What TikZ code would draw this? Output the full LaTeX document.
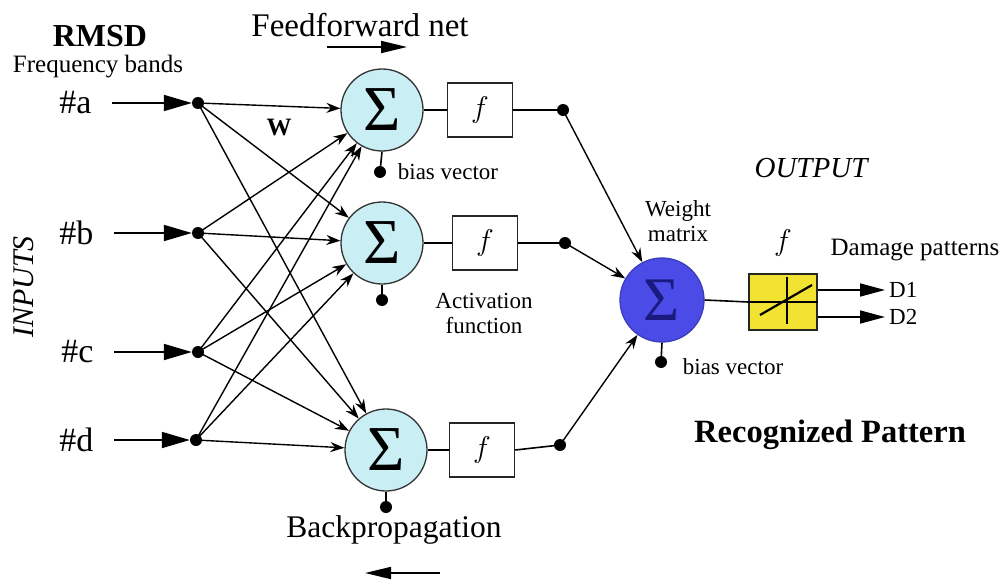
\RequirePackage{fix-cm}
\documentclass[tikz,border=0pt]{standalone}
\usepackage{fontspec}
\setmainfont{Liberation Serif}
\usetikzlibrary{arrows.meta,calc}
\definecolor{neuron}{HTML}{C9EEF3}
\definecolor{outblue}{HTML}{4B4BE8}
\definecolor{sigblue}{HTML}{1A1A80}
\definecolor{ybox}{HTML}{F2E232}
\begin{document}
\begin{tikzpicture}[x=1pt,y=-1pt,
 neuronc/.style={circle,draw=black!80,line width=1.3pt,fill=neuron,minimum size=82pt,inner sep=0pt,font=\fontsize{64}{64}\selectfont},
 fbox/.style={draw=black!85,line width=1.5pt,fill=white,minimum width=65pt,minimum height=54pt,inner sep=0pt,font=\fontsize{30}{30}\selectfont},
 dotn/.style={circle,fill=black,minimum size=12pt,inner sep=0pt},
 conn/.style={line width=1.4pt,-{Stealth[length=14pt,width=10pt]}},
 inarr/.style={line width=1.8pt,-{Triangle[length=28pt,width=16pt]}},
 plainln/.style={line width=1.6pt},
 lbl/.style={font=\fontsize{33}{36}\selectfont},
 smalllbl/.style={font=\fontsize{23}{25}\selectfont},
]
\useasboundingbox (0,0) rectangle (1000,583);
% input labels
\node[font=\fontsize{32}{34}\selectfont\bfseries,inner sep=1pt] (rmsd) at (100,36) {RMSD};
\node[font=\fontsize{25}{27}\selectfont,inner sep=1pt] (fb) at (98,67) {Frequency bands};
\node[font=\fontsize{34}{36}\selectfont,anchor=east] (la) at (95,103) {\#a};
\node[font=\fontsize{34}{36}\selectfont,anchor=east] (lb) at (97,233) {\#b};
\node[font=\fontsize{34}{36}\selectfont,anchor=east] (lc) at (97,352) {\#c};
\node[font=\fontsize{34}{36}\selectfont,anchor=east] (ld) at (97,440) {\#d};
\node[font=\fontsize{30}{32}\selectfont\itshape,rotate=90] (inputs) at (24,287) {INPUTS};
% input dots
\node[dotn] (ia) at (198,103) {};
\node[dotn] (ib) at (198,233) {};
\node[dotn] (ic) at (198,352) {};
\node[dotn] (id) at (196,440) {};
\foreach \l/\i in {la/ia,lb/ib,lc/ic,ld/id}{
  \draw[inarr] ($(\l.east)+(17,0)$) -- (\i.west);
}
% hidden neurons
\node[neuronc] (n1) at (382,110) {Σ};
\node[neuronc] (n2) at (382,243) {Σ};
\node[neuronc] (n3) at (386,450) {Σ};
% connections
\foreach \i in {ia,ib,ic,id}{
  \foreach \n in {n1,n2,n3}{
    \draw[conn] (\i.center) -- (\n);
  }
}
\node[font=\fontsize{25}{26}\selectfont\bfseries] (w) at (279,128) {W};
% activation boxes
\node[fbox] (f1) at (480,110) {$f$};
\node[fbox] (f2) at (485,243) {$f$};
\node[fbox] (f3) at (482,450) {$f$};
\node[dotn] (o1) at (563,110) {};
\node[dotn] (o2) at (565,243) {};
\node[dotn] (o3) at (560,445) {};
\draw[plainln] (n1.east) -- (f1.west);
\draw[plainln] (n2.east) -- (f2.west);
\draw[plainln] (n3.east) -- (f3.west);
\draw[plainln] (f1.east) -- (o1.center);
\draw[plainln] (f2.east) -- (o2.center);
\draw[plainln] (f3.east) -- (o3.center);
% biases
\node[dotn] (b1) at (380,172) {};
\node[dotn] (b2) at (382,300) {};
\node[dotn] (b3) at (386,507) {};
\draw[plainln] (n1.south) -- (b1.center);
\draw[plainln] (n2.south) -- (b2.center);
\draw[plainln] (n3.south) -- (b3.center);
\node[smalllbl] (bv1) at (448,172) {bias vector};
\node[smalllbl,align=center] (act) at (484,313) {Activation\\function};
% output neuron
\node[circle,draw=outblue!80!black,line width=1.3pt,fill=outblue,minimum size=84pt,inner sep=0pt,text=sigblue,font=\fontsize{62}{62}\selectfont] (out) at (662,300) {Σ};
\draw[conn] (o1.center) -- (out);
\draw[conn] (o2.center) -- (out);
\draw[conn] (o3.center) -- (out);
\node[dotn] (bo) at (661,362) {};
\draw[plainln] (out.south) -- (bo.center);
\node[smalllbl] (bvo) at (733,367) {bias vector};
\node[smalllbl,align=center] (wm) at (678,221) {Weight\\matrix};
% linear transfer box
\node[draw=black!85,line width=1.5pt,fill=ybox,minimum width=68pt,minimum height=56pt,inner sep=0pt] (yb) at (783,302) {};
\draw[line width=1.2pt] (yb.west) -- (yb.east);
\draw[line width=1.2pt] ($(yb.north)+(4,4)$) -- ($(yb.south)+(4,-7)$);
\draw[line width=2.2pt] ($(yb.center)+(-23,13)$) -- ($(yb.center)+(29,-17)$);
\draw[plainln] (out.east) -- (yb.west);
\node[font=\fontsize{30}{30}\selectfont] (fy) at (783,243) {$f$};
\coordinate (d1e) at (885,290);
\coordinate (d2e) at (885,317);
\draw[line width=1.6pt,-{Triangle[length=25pt,width=13pt]}] (yb.east |- d1e) -- (d1e);
\draw[line width=1.6pt,-{Triangle[length=25pt,width=13pt]}] (yb.east |- d2e) -- (d2e);
\node[smalllbl,anchor=west,inner sep=0pt] (d1) at (889,290) {D1};
\node[smalllbl,anchor=west,inner sep=0pt] (d2) at (889,317) {D2};
\node[font=\fontsize{25}{27}\selectfont] (dp) at (915,250) {Damage patterns};
\node[font=\fontsize{29}{31}\selectfont\itshape] (outp) at (811,168) {OUTPUT};
\node[font=\fontsize{32.5}{34}\selectfont\bfseries] (rp) at (830,435) {Recognized Pattern};
% top and bottom
\node[lbl] (ff) at (360,25) {Feedforward net};
\coordinate (ffs) at (327,47);
\coordinate (ffe) at (407,47);
\draw[line width=1.8pt,-{Triangle[length=26pt,width=12pt]}] (ffs) -- (ffe);
\node[font=\fontsize{31.5}{34}\selectfont] (bp) at (394,530) {Backpropagation};
\coordinate (bps) at (440,573);
\coordinate (bpe) at (365,573);
\draw[line width=1.8pt,-{Triangle[length=26pt,width=12pt]}] (bps) -- (bpe);
\end{tikzpicture}
\end{document}
